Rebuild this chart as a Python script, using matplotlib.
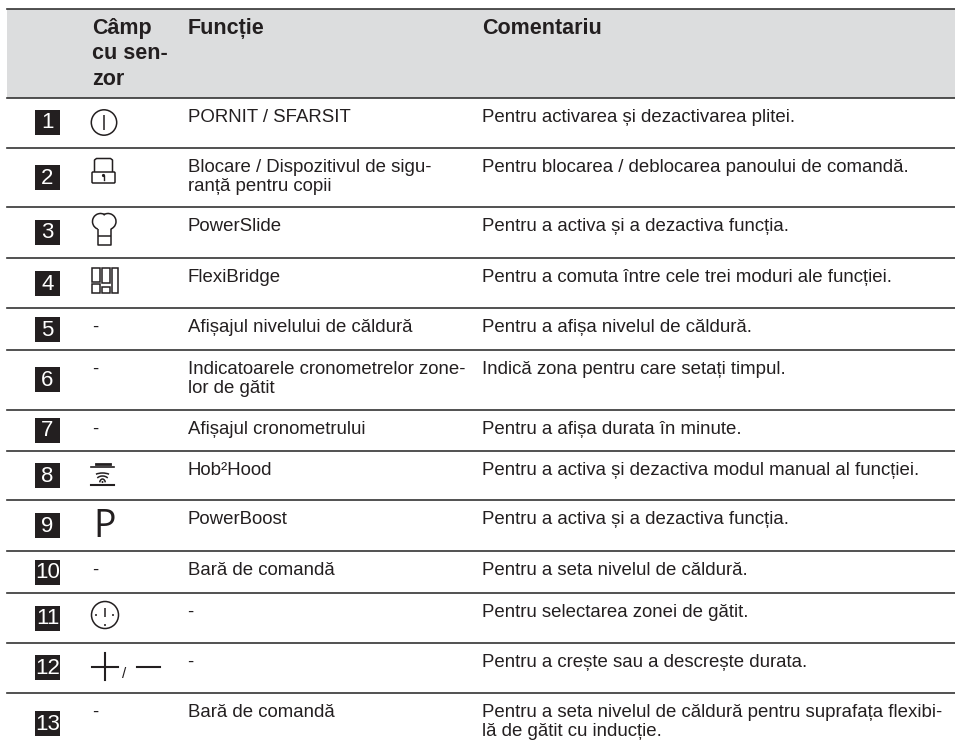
import matplotlib
matplotlib.use('Agg')
import matplotlib.pyplot as plt
from matplotlib.patches import Rectangle, Circle, Arc, FancyBboxPatch

plt.rcParams['font.family'] = ['Liberation Sans', 'DejaVu Sans']

W, H = 955, 749
TXT = '#231f20'

numbers = ['1', '2', '3', '4', '5', '6', '7', '8', '9', '10', '11', '12', '13']
header = ['Câmp\ncu sen-\nzor', 'Funcție', 'Comentariu']
functions = ['PORNIT / SFARSIT',
             'Blocare / Dispozitivul de sigu-\nranță pentru copii',
             'PowerSlide',
             'FlexiBridge',
             'Afișajul nivelului de căldură',
             'Indicatoarele cronometrelor zone-\nlor de gătit',
             'Afișajul cronometrului',
             'Hob²Hood',
             'PowerBoost',
             'Bară de comandă',
             '-',
             '-',
             'Bară de comandă']
comments = ['Pentru activarea și dezactivarea plitei.',
            'Pentru blocarea / deblocarea panoului de comandă.',
            'Pentru a activa și a dezactiva funcția.',
            'Pentru a comuta între cele trei moduri ale funcției.',
            'Pentru a afișa nivelul de căldură.',
            'Indică zona pentru care setați timpul.',
            'Pentru a afișa durata în minute.',
            'Pentru a activa și dezactiva modul manual al funcției.',
            'Pentru a activa și a dezactiva funcția.',
            'Pentru a seta nivelul de căldură.',
            'Pentru selectarea zonei de gătit.',
            'Pentru a crește sau a descrește durata.',
            'Pentru a seta nivelul de căldură pentru suprafața flexibi-\nlă de gătit cu inducție.']
dash_rows = [4, 5, 6, 9, 12]
row_lines = [98, 148, 207, 258, 308, 350, 410, 451, 500, 551, 593, 643, 693]
box_tops = [110, 165, 220, 271, 317, 367, 418, 463, 513, 560, 606, 655, 711]

fig = plt.figure(figsize=(W/100, H/100), dpi=100)
ax = fig.add_axes([0, 0, 1, 1])
ax.set_xlim(0, W)
ax.set_ylim(H, 0)
ax.axis('off')

ax.add_patch(Rectangle((7, 9), 948, 89, color='#dcddde', lw=0))
ax.plot([7, 955], [8.5, 8.5], color='#333333', lw=1.2)
for y in row_lines:
    ax.plot([7, 955], [y, y], color='#333333', lw=1.2)

ax.text(92, 18, header[0], fontsize=15.5, fontweight='bold', color=TXT, va='top', linespacing=1.27)
ax.text(188, 18, header[1], fontsize=15.5, fontweight='bold', color=TXT, va='top')
ax.text(482, 18, header[2], fontsize=15.5, fontweight='bold', color=TXT, va='top')

for i, (n, f, c) in enumerate(zip(numbers, functions, comments)):
    top = row_lines[i] + 11
    ax.add_patch(Rectangle((35, box_tops[i]), 25, 25, color='#231f20', lw=0))
    ax.text(47.5, box_tops[i] + 13, n, fontsize=16, color='white', ha='center', va='center')
    ax.text(187.5, top, f, fontsize=13.4, color=TXT, va='top', linespacing=1.12)
    ax.text(482, top, c, fontsize=13.4, color=TXT, va='top', linespacing=1.12)
    if i in dash_rows:
        ax.text(92, top, '-', fontsize=13.4, color=TXT, va='top')

ic = dict(color=TXT, lw=1.1, solid_capstyle='butt')
nf = dict(fill=False, ec=TXT, lw=1.1)

# power icon
ax.add_patch(Circle((104, 122.5), 12.7, **nf))
ax.plot([104, 104], [115, 130], **ic)
# lock
ax.add_patch(FancyBboxPatch((92, 172), 23, 11, boxstyle='round,pad=0,rounding_size=1', **nf))
ax.plot([94.5, 94.5, 96.5, 110.5, 112.5, 112.5], [172, 160, 158.5, 158.5, 160, 172], **ic)
ax.add_patch(Circle((103.5, 175.5), 1.6, color=TXT, lw=0))
ax.plot([103.5, 103.5], [175.5, 179.5], color=TXT, lw=1)
# chef hat
ax.add_patch(Arc((100.5, 221.5), 16, 16, theta1=110, theta2=305, **nf))
ax.add_patch(Arc((108, 221.5), 16, 16, theta1=235, theta2=70, **nf))
ax.plot([97.8, 97.8, 110.7, 110.7], [229, 245, 245, 229], **ic)
ax.plot([97.8, 110.7], [236, 236], **ic)
# flexibridge
for x0, y0, w, h in [(92, 268, 8, 14), (102, 268, 8, 15), (112, 268, 6, 25),
                     (92, 284, 8, 9), (102, 287, 8, 6)]:
    ax.add_patch(Rectangle((x0, y0), w, h, **nf))
# hob2hood
ax.plot([96, 110], [463.5, 463.5], color=TXT, lw=2)
ax.plot([91, 114], [467, 467], color=TXT, lw=1.2)
ax.plot([91, 114], [485, 485], color=TXT, lw=1.5)
for w, y in [(20, 473), (13, 476), (6, 479)]:
    ax.add_patch(Arc((102.5, y + 5), w, 10, theta1=210, theta2=330, **nf))
ax.add_patch(Circle((102.5, 482), 1, color=TXT, lw=0))
# P
ax.text(93.5, 537, 'P', fontsize=27, family='Open Sans', color=TXT, va='baseline', ha='left')
# timer
ax.add_patch(Circle((105, 615), 13.5, **nf))
ax.plot([105, 105], [608, 617], **ic)
for x, y in [(96, 615), (113, 615), (105, 625)]:
    ax.add_patch(Circle((x, y), 1, color=TXT, lw=0))
# plus / minus
ax.plot([92, 118], [667, 667], color=TXT, lw=1.5)
ax.plot([104.5, 104.5], [653, 680], color=TXT, lw=1.5)
ax.text(124, 674, '/', fontsize=11, color=TXT, ha='center', va='center')
ax.plot([137, 160], [667, 667], color=TXT, lw=1.5)

fig.savefig('out.png', dpi=100)
